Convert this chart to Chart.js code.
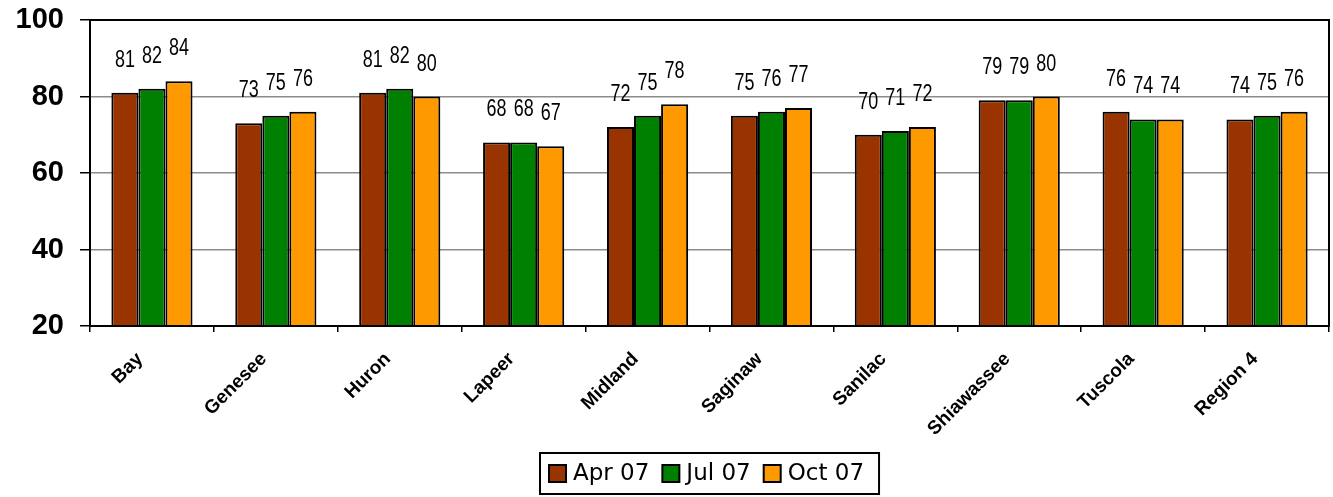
<!DOCTYPE html>
<html>
<head>
<meta charset="utf-8">
<script src="https://cdn.jsdelivr.net/npm/chart.js@4"></script>
<style>
  html,body{margin:0;padding:0;background:#fff;}
  #wrap{width:1333px;height:497px;position:relative;}
</style>
</head>
<body>
<div id="wrap"><canvas id="chart"></canvas></div>
<script>
const counties = ['Bay','Genesee','Huron','Lapeer','Midland','Saginaw','Sanilac','Shiawassee','Tuscola','Region 4'];
const apr07 = [81,73,81,68,72,75,70,79,76,74];
const jul07 = [82,75,82,68,75,76,71,79,74,75];
const oct07 = [84,76,80,67,78,77,72,80,74,76];
const yTicks = [20,40,60,80,100];

// value labels above each bar, narrow type
const valueLabels = {
  id:'valueLabels',
  afterDatasetsDraw(chart){
    const ctx = chart.ctx;
    chart.data.datasets.forEach((ds,i)=>{
      chart.getDatasetMeta(i).data.forEach((bar,j)=>{
        ctx.save();
        ctx.font = '23px "Liberation Sans", Arial, sans-serif';
        ctx.fillStyle = '#000';
        ctx.textAlign = 'center';
        ctx.textBaseline = 'alphabetic';
        ctx.translate(bar.x, bar.y - 26);
        ctx.scale(0.78, 1);
        ctx.fillText(String(ds.data[j]), 0, 0);
        ctx.restore();
      });
    });
  }
};

// black frame round plot area and a boxed legend under it
const frameAndLegend = {
  id:'frameAndLegend',
  afterDraw(chart){
    const ctx = chart.ctx, a = chart.chartArea;
    ctx.save();
    ctx.strokeStyle = '#000';
    ctx.lineWidth = 2;
    ctx.strokeRect(a.left, a.top, a.right - a.left, a.bottom - a.top);

    ctx.font = '23px "DejaVu Sans", Verdana, sans-serif';
    ctx.textBaseline = 'middle';
    ctx.textAlign = 'left';
    const sw = 17, gapIn = 7, gapOut = 13, padL = 9, padR = 15;
    const items = chart.data.datasets.map(ds=>({label:ds.label, color:ds.backgroundColor, w:ctx.measureText(ds.label).width}));
    let total = padL + padR;
    items.forEach((it,i)=>{ total += sw + gapIn + it.w + (i < items.length-1 ? gapOut : 0); });
    const cx = (a.left + a.right) / 2;
    const left = Math.round(cx - total/2), top = 453, h = 41;
    ctx.lineWidth = 2;
    ctx.strokeRect(left, top, total, h);
    let x = left + padL;
    const yMid = top + h/2;
    items.forEach(it=>{
      ctx.fillStyle = it.color;
      ctx.fillRect(x, yMid - sw/2, sw, sw);
      ctx.lineWidth = 2;
      ctx.strokeRect(x, yMid - sw/2, sw, sw);
      x += sw + gapIn;
      ctx.fillStyle = '#000';
      ctx.fillText(it.label, x, yMid + 1);
      x += it.w + gapOut;
    });
    ctx.restore();
  }
};

const mk = (label, data, color)=>({label, data, backgroundColor:color, borderColor:'#000', borderWidth:2, borderSkipped:false, categoryPercentage:0.655, barPercentage:1});

new Chart(document.getElementById('chart'), {
  type:'bar',
  data:{
    labels:counties,
    datasets:[
      mk('Apr 07', apr07, '#993300'),
      mk('Jul 07', jul07, '#008000'),
      mk('Oct 07', oct07, '#FF9900')
    ]
  },
  options:{
    responsive:true,
    maintainAspectRatio:false,
    animation:false,
    layout:{padding:{top:0, right:4, bottom:51, left:0}},
    plugins:{
      legend:{display:false},
      tooltip:{enabled:false}
    },
    scales:{
      x:{
        border:{display:true, color:'#000', width:2},
        grid:{display:true, offset:true, drawOnChartArea:false, drawTicks:true, tickLength:6, color:'#000', lineWidth:1.5},
        ticks:{color:'#000', maxRotation:45, minRotation:45, padding:16, labelOffset:-12, font:{family:'"Liberation Sans", Arial, sans-serif', size:19, weight:'bold'}},
        afterFit(scale){ scale.height = 120; }
      },
      y:{
        min:20, max:100,
        afterBuildTicks(scale){ scale.ticks = yTicks.map(v=>({value:v})); },
        border:{display:true, color:'#000', width:2},
        grid:{
          color:(c)=> c.tick && (c.tick.value===20 || c.tick.value===100) ? '#000' : '#8c8c8c',
          lineWidth:1.5, tickLength:10, tickColor:'#000'
        },
        ticks:{color:'#000', padding:16, font:{family:'"Liberation Sans", Arial, sans-serif', size:29, weight:'bold'}},
        afterFit(scale){ scale.width = 90; scale.paddingTop = 20; scale.paddingBottom = 0; }
      }
    }
  },
  plugins:[valueLabels, frameAndLegend]
});
</script>
</body>
</html>
